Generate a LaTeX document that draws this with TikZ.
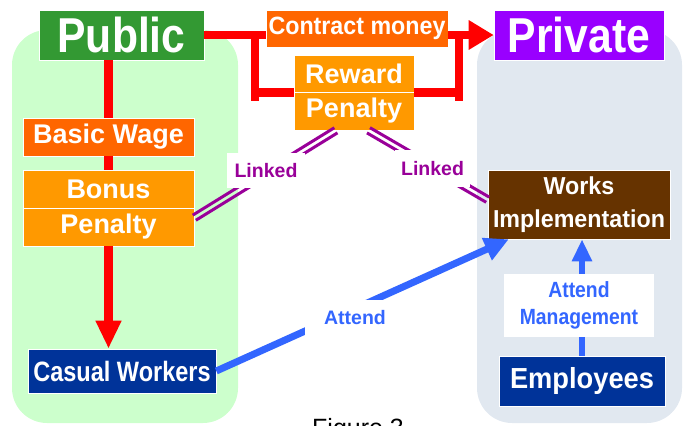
\documentclass[tikz,border=0pt]{standalone}
\usepackage{fontspec}
\setmainfont{Liberation Sans}
\usetikzlibrary{arrows.meta,calc}

\definecolor{pubgreen}{HTML}{339933}
\definecolor{privpurple}{HTML}{9900FF}
\definecolor{darkorange}{HTML}{FF6600}
\definecolor{lightorange}{HTML}{FF9900}
\definecolor{navy}{HTML}{003399}
\definecolor{brown}{HTML}{663300}
\definecolor{attendblue}{HTML}{3366FF}
\definecolor{linkpurple}{HTML}{990099}
\definecolor{zonegreen}{HTML}{CCFFCC}
\definecolor{zonegrey}{HTML}{E1E8F0}

% font size in pt plus a horizontal squeeze factor
\newcommand\boxfont[2]{\fontsize{#1}{#2}\selectfont\bfseries}
\newcommand\narrow[2]{\scalebox{#1}[1]{#2}}

\begin{document}
\begin{tikzpicture}[x=1pt,y=-1pt,
  box/.style={draw=white, line width=0.6pt, inner sep=0pt, text=white, align=center},
  tag/.style={fill=white, inner sep=0pt, align=center},
  redl/.style={draw=red, line width=8.5pt},
  bluel/.style={draw=attendblue, line width=7pt},
  strand/.style={draw=linkpurple, line width=3pt},
]
\useasboundingbox (0,0) rectangle (684,425);

% background zones
\fill[zonegreen, rounded corners=35pt] (12,30) rectangle (238,423);
\fill[zonegrey, rounded corners=35pt] (477,30) rectangle (682,423);

% top row
\node[box, fill=pubgreen, minimum width=165pt, minimum height=50pt,
      font=\boxfont{49}{52}] (pub) at (121.5,35) {\narrow{0.87}{Public}};
\node[box, fill=privpurple, minimum width=170pt, minimum height=50pt,
      font=\boxfont{49}{52}] (priv) at (579,35) {\narrow{0.87}{Private}};
\node[box, fill=darkorange, minimum width=182pt, minimum height=37pt,
      font=\boxfont{25}{28}] (cm) at (357,28.5) {\narrow{0.93}{Contract money}};
\node[box, fill=lightorange, minimum width=120pt, minimum height=37pt,
      font=\boxfont{27}{30}] (rw) at (354,73.5) {Reward};
\node[box, fill=lightorange, minimum width=120pt, minimum height=38pt,
      font=\boxfont{27}{30}] (pen) at (354,111) {Penalty};

% public side
\node[box, fill=darkorange, minimum width=171pt, minimum height=38pt,
      font=\boxfont{27}{30}] (bw) at (108.5,137) {Basic Wage};
\node[box, fill=lightorange, minimum width=171pt, minimum height=38pt,
      font=\boxfont{27}{30}] (bon) at (108.5,189) {Bonus};
\node[box, fill=lightorange, minimum width=171pt, minimum height=38pt,
      font=\boxfont{27}{30}] (bpen) at (108.5,227) {Penalty};
\node[box, fill=navy, minimum width=188pt, minimum height=44pt,
      font=\boxfont{28}{30}] (cw) at (122,371) {\narrow{0.84}{Casual Workers}};

% private side
\node[box, fill=brown, minimum width=182pt, minimum height=69pt,
      font=\boxfont{24.5}{33}] (wi) at (579,204.5)
      {\narrow{0.95}{Works}\\\narrow{0.95}{Implementation}};
\node[box, fill=navy, minimum width=166pt, minimum height=50pt,
      font=\boxfont{29}{32}] (emp) at (582,381) {\narrow{0.94}{Employees}};

% contract flow
\coordinate (jl) at (255,35);
\coordinate (jlb) at (255,101);
\coordinate (jr) at (459,35);
\coordinate (jrb) at (459,101);
\draw[redl] (pub.east) -- (pub.east -| cm.west);
\draw[redl] (jl) -- (jlb);
\draw[redl] (jl |- rw.south west) -- (rw.south west);
\draw[redl, -{Triangle[length=25pt,width=28pt]}] (cm.east |- priv.west) -- (priv.west);
\draw[redl] (jr) -- (jrb);
\draw[redl] (rw.south east) -- (jr |- rw.south east);

% wage chain
\draw[redl] (bw.north |- pub.south) -- (bw.north);
\draw[redl] (bw.south) -- (bon.north);
\draw[redl, -{Triangle[length=28pt,width=24pt]}] (bpen.south) -- (bpen.south |- cw.north);

% linked incentives: two parallel strands each
\coordinate (la) at ($(pen.south west)!0.35!(pen.south east)$);
\coordinate (lb) at ($(bpen.north east)+(0,10)$);
\coordinate (ra) at ($(pen.south west)!0.62!(pen.south east)$);
\coordinate (rb) at ($(wi.north west)+(0,30)$);
\draw[strand] ($(la)!3pt!90:(lb)$) -- ($(lb)!3pt!-90:(la)$);
\draw[strand] ($(la)!3pt!-90:(lb)$) -- ($(lb)!3pt!90:(la)$);
\draw[strand] ($(ra)!3pt!90:(rb)$) -- ($(rb)!3pt!-90:(ra)$);
\draw[strand] ($(ra)!3pt!-90:(rb)$) -- ($(rb)!3pt!90:(ra)$);
\node[tag, minimum width=78pt, minimum height=35pt, text=linkpurple,
      font=\boxfont{19.5}{22}] (lk1) at (266,170.5) {Linked};
\node[tag, minimum width=75pt, minimum height=37pt, text=linkpurple,
      font=\boxfont{19.5}{22}] (lk2) at (432.5,168.5) {Linked};

% attendance
\coordinate (wtip) at ($(wi.south west)+(21,0)$);
\draw[bluel, -{Triangle[length=24pt,width=23pt]}] (cw.east) -- (wtip);
\node[tag, minimum width=100pt, minimum height=36pt, text=attendblue,
      font=\boxfont{19.5}{22}] (att) at (355,318) {Attend};
\draw[draw=attendblue, line width=6pt, -{Triangle[length=22pt,width=19pt]}]
      (emp.north) -- (emp.north |- wi.south);
\node[tag, minimum width=150pt, minimum height=63pt, text=attendblue,
      font=\boxfont{22}{27}] (am) at (579,305.5)
      {\narrow{0.88}{Attend}\\\narrow{0.88}{Management}};

% caption
\node[anchor=base west, inner sep=0pt, font=\fontsize{25}{30}\selectfont]
      (fig) at (312,436) {Figure 3};
\end{tikzpicture}
\end{document}
